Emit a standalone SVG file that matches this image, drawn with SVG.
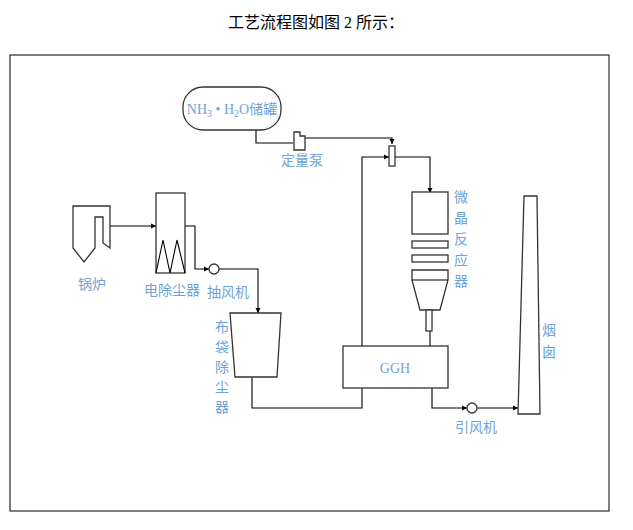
<svg xmlns="http://www.w3.org/2000/svg" width="633" height="530" viewBox="0 0 633 530">
<defs><marker id="a" viewBox="0 0 6 6" refX="6" refY="3" markerWidth="5" markerHeight="5" orient="auto"><path d="M0,0L6,3L0,6z" fill="#000"/></marker></defs>
<style>.s{fill:#fff;stroke:#333;stroke-width:1.3}.c{fill:none;stroke:#000;stroke-width:1.1}.t{font-family:"Noto Sans CJK SC",sans-serif;font-size:14px;fill:#6fa3d8}.g{font-family:"Liberation Serif","Noto Sans CJK SC",serif;font-size:14px;fill:#6fa3d8}</style>
<rect width="633" height="530" fill="#fff"/>
<text x="316" y="28" text-anchor="middle" font-family="Liberation Serif,Noto Sans CJK SC,serif" font-size="16">工艺流程图如图 2 所示：</text>
<rect x="10" y="55" width="599" height="456" fill="none" stroke="#000"/>
<g id="connectors">
<path class="c" d="M256,130V143H293"/>
<path class="c" d="M305,138H392V144" marker-end="url(#a)"/>
<path class="c" d="M395,157H430V193" marker-end="url(#a)"/>
<path class="c" d="M362,346V157H389" marker-end="url(#a)"/>
<path class="c" d="M110,226H156" marker-end="url(#a)"/>
<path class="c" d="M185,226H195V269H209" marker-end="url(#a)"/>
<path class="c" d="M219,269H258V313" marker-end="url(#a)"/>
<path class="c" d="M252,377V408H362V388"/>
<path class="c" d="M430,331V346"/>
<path class="c" d="M432,388V408H467" marker-end="url(#a)"/>
<path class="c" d="M477,408H518" marker-end="url(#a)"/>
</g>
<g id="tank"><rect class="s" x="183" y="87" width="98" height="43" rx="20"/><text class="g" x="232" y="114" text-anchor="middle">NH<tspan font-size="10" dy="3">3</tspan><tspan dy="-3"> • H</tspan><tspan font-size="10" dy="3">2</tspan><tspan dy="-3">O储罐</tspan></text></g>
<g id="pump"><path class="s" d="M294,132H300V136H305V150H294Z"/><text class="t" x="302" y="165" text-anchor="middle">定量泵</text></g>
<g id="injector"><rect class="s" x="389" y="146" width="6" height="20"/></g>
<g id="boiler"><path class="s" d="M73,206H110V248L103,243V217H95V248L84,262L73,248Z"/><text class="t" x="92" y="289" text-anchor="middle">锅炉</text></g>
<g id="esp"><rect class="s" x="156" y="193" width="29" height="80"/><path class="c" d="M156,273L163,240L170,273L177,240L185,273"/><text class="t" x="172" y="295" text-anchor="middle">电除尘器</text></g>
<g id="fan1"><circle class="s" cx="214" cy="269" r="5"/><text class="t" x="228" y="297" text-anchor="middle">抽风机</text></g>
<g id="bag"><path class="s" d="M230,313H281L277,377H235Z"/><text class="t" text-anchor="middle"><tspan x="222" y="332">布</tspan><tspan x="222" y="352">袋</tspan><tspan x="222" y="372">除</tspan><tspan x="222" y="392">尘</tspan><tspan x="222" y="412">器</tspan></text></g>
<g id="ggh"><rect class="s" x="343" y="346" width="105" height="42"/><text class="g" x="395" y="373" text-anchor="middle">GGH</text></g>
<g id="reactor"><rect class="s" x="412" y="192" width="36" height="42"/><rect class="s" x="412" y="241" width="36" height="7"/><rect class="s" x="412" y="255" width="36" height="7"/><path class="s" d="M412,270H448V280L440,310H420L412,280Z"/><path class="c" d="M412,280H448"/><rect class="s" x="426" y="310" width="6" height="21"/><text class="t" text-anchor="middle"><tspan x="461" y="202">微</tspan><tspan x="461" y="223">晶</tspan><tspan x="461" y="244">反</tspan><tspan x="461" y="265">应</tspan><tspan x="461" y="286">器</tspan></text></g>
<g id="fan2"><circle class="s" cx="472" cy="408" r="5"/><text class="t" x="476" y="432" text-anchor="middle">引风机</text></g>
<g id="stack"><path class="s" d="M524,196H537L540,414H518Z"/><text class="t" text-anchor="middle"><tspan x="549" y="335">烟</tspan><tspan x="549" y="357">囱</tspan></text></g>
</svg>
